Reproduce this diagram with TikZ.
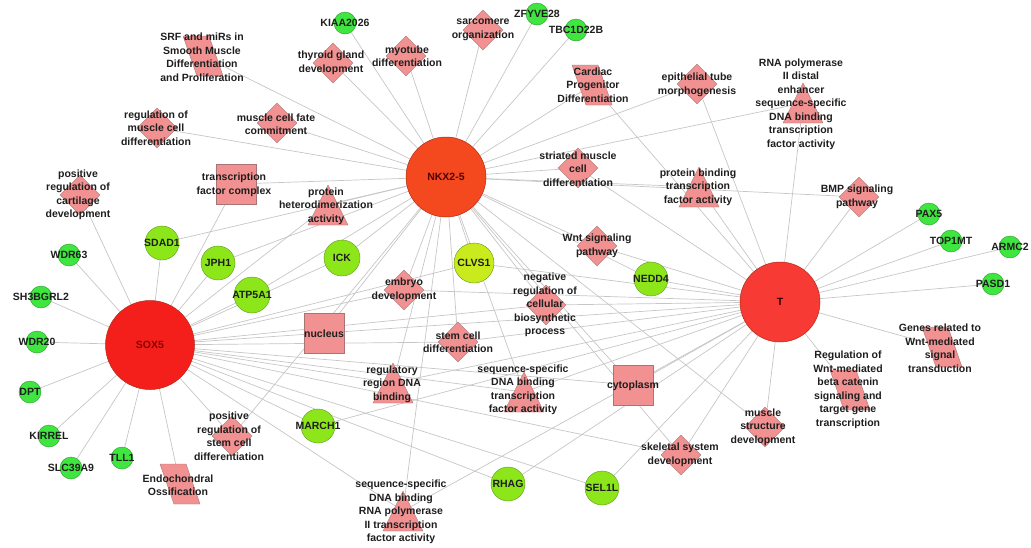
\documentclass[tikz,border=0pt]{standalone}
\usepackage{fontspec}
\setmainfont{Liberation Sans}
\usetikzlibrary{shapes.geometric}
\pgfdeclarelayer{bg}
\pgfdeclarelayer{fg}
\pgfsetlayers{bg,main,fg}
\definecolor{edgec}{HTML}{C6C6C6}
\definecolor{termf}{HTML}{F29191}
\definecolor{termd}{HTML}{A87474}
\definecolor{gbright}{HTML}{3FE63F}
\definecolor{gbrightd}{HTML}{2E9A2E}
\definecolor{limec}{HTML}{8CE61A}
\definecolor{limed}{HTML}{5E9A1A}
\definecolor{yelc}{HTML}{C9EA1C}
\definecolor{nkxc}{HTML}{F4491E}
\definecolor{soxc}{HTML}{F41F1A}
\definecolor{tcol}{HTML}{F83A34}
\definecolor{hubd}{HTML}{B02A1A}
\definecolor{txt}{HTML}{1E1E1E}
\newcommand\mkparal[1]{\draw[term] ([shift={(-20,-20)}]#1.center) -- ([shift={(6,-20)}]#1.center) -- ([shift={(20,20)}]#1.center) -- ([shift={(-6,20)}]#1.center) -- cycle;}
\newcommand\mktri[1]{\draw[term] ([shift={(0,-20)}]#1.center) -- ([shift={(20,20)}]#1.center) -- ([shift={(-20,20)}]#1.center) -- cycle;}
\tikzset{
  edge/.style={draw=edgec, line width=0.7pt},
  term/.style={fill=termf, draw=termd, line width=0.4pt},
  hub/.style={circle, inner sep=0pt, minimum size=80pt, draw=hubd, line width=0.5pt},
  gsmall/.style={circle, inner sep=0pt, minimum size=22pt, fill=gbright, draw=gbrightd, line width=0.4pt},
  gbig/.style={circle, inner sep=0pt, minimum size=34pt, fill=limec, draw=limed, line width=0.4pt},
  dia/.style={diamond, inner sep=0pt, minimum width=40pt, minimum height=40pt, term},
  sq/.style={rectangle, inner sep=0pt, minimum size=40pt, term},
  pt/.style={inner sep=0pt, minimum size=0pt},
  lbl/.style={align=center, text=txt, inner sep=0pt, font=\fontsize{10.5}{13.5}\selectfont\bfseries},
}
\begin{document}
\begin{tikzpicture}[x=1pt, y=-1pt]
\useasboundingbox (0,0) rectangle (1031,547);
% hubs
\node[hub, fill=nkxc, minimum size=80pt] (nkx) at (446,177) {};
\node[hub, fill=soxc, minimum size=89pt] (sox) at (150,345) {};
\node[hub, fill=tcol, minimum size=80pt] (t) at (780,302) {};
% small genes
\node[gsmall] (kiaa) at (345,23) {};
\node[gsmall] (zfyve) at (537,14) {};
\node[gsmall] (tbc) at (576,30) {};
\node[gsmall] (pax5) at (929,214) {};
\node[gsmall] (top1mt) at (951,241) {};
\node[gsmall] (armc2) at (1010,247) {};
\node[gsmall] (pasd1) at (993,284) {};
\node[gsmall] (wdr63) at (69,255) {};
\node[gsmall] (sh3) at (41,297) {};
\node[gsmall] (wdr20) at (37,342) {};
\node[gsmall] (dpt) at (30,392) {};
\node[gsmall] (kirrel) at (49,436) {};
\node[gsmall] (slc) at (71,468) {};
\node[gsmall] (tll1) at (122,458) {};
% big genes
\node[gbig] (sdad1) at (162,243) {};
\node[gbig] (jph1) at (218,263) {};
\node[gbig, minimum size=36pt] (ick) at (342,258) {};
\node[gbig, minimum size=36pt] (atp5a1) at (252,295) {};
\node[gbig, minimum size=40pt, fill=yelc] (clvs1) at (474,263) {};
\node[gbig] (nedd4) at (651,279) {};
\node[gbig] (march1) at (318,426) {};
\node[gbig] (rhag) at (508,484) {};
\node[gbig] (sel1l) at (602,488) {};
% diamonds
\node[dia] (thyroid) at (333,63) {};
\node[dia] (myotube) at (406,56) {};
\node[dia] (sarcomere) at (483,30) {};
\node[dia] (mcfate) at (277,123) {};
\node[dia] (regmcd) at (157,128) {};
\node[dia] (poscart) at (80,195) {};
\node[dia] (embryo) at (404,290) {};
\node[dia] (striated) at (578,168) {};
\node[dia] (wnt) at (597,246) {};
\node[dia] (negreg) at (546,305) {};
\node[dia] (stemcell) at (458,342) {};
\node[dia] (epith) at (697,84) {};
\node[dia] (bmp) at (859,197) {};
\node[dia] (skeletal) at (681,455) {};
\node[dia] (musclestr) at (765,427) {};
\node[dia] (posstem) at (232,436) {};
% squares
\node[sq] (tfc) at (236,184) {};
\node[sq] (nucleus) at (324,333) {};
\node[sq] (cyto) at (633,385) {};
% triangles
\node[pt] (prothet) at (328,205) {};
\node[pt] (probind) at (699,187) {};
\node[pt] (rnapol) at (803,103) {};
\node[pt] (regreg) at (393,383) {};
\node[pt] (seqtf) at (524,392) {};
\node[pt] (seqrna) at (403,511) {};
\mktri{prothet}\mktri{probind}\mktri{rnapol}\mktri{regreg}\mktri{seqtf}\mktri{seqrna}
% parallelograms
\node[pt] (srf) at (203,56) {};
\node[pt] (cardiac) at (592,85) {};
\node[pt] (endo) at (180,484) {};
\node[pt] (regwnt) at (850,390) {};
\node[pt] (genes) at (942,347) {};
\mkparal{srf}\mkparal{cardiac}\mkparal{endo}\mkparal{regwnt}\mkparal{genes}
% edges
\begin{pgfonlayer}{bg}
\foreach \n in {kiaa,zfyve,tbc,thyroid,myotube,sarcomere,srf,mcfate,regmcd,tfc,prothet,sdad1,jph1,ick,atp5a1,clvs1,embryo,nucleus,stemcell,regreg,seqtf,seqrna,posstem,negreg,striated,cardiac,epith,rnapol,probind,bmp,wnt,nedd4,musclestr,cyto,skeletal}
  \draw[edge] (nkx.center) -- (\n.center);
\foreach \n in {wdr63,sh3,wdr20,dpt,kirrel,slc,tll1,poscart,endo,posstem,sdad1,jph1,atp5a1,ick,tfc,prothet,embryo,clvs1,nucleus,stemcell,negreg,regreg,seqtf,seqrna,march1,rhag,sel1l,skeletal,cyto}
  \draw[edge] (sox.center) -- (\n.center);
\foreach \n in {pax5,top1mt,armc2,pasd1,bmp,rnapol,epith,probind,cardiac,striated,wnt,nedd4,clvs1,negreg,stemcell,embryo,nucleus,seqtf,regreg,cyto,march1,rhag,sel1l,skeletal,musclestr,regwnt,genes,seqrna}
  \draw[edge] (t.center) -- (\n.center);
\end{pgfonlayer}
% labels
\begin{pgfonlayer}{fg}
\node[lbl, text=black!60!red!80!black] (nkx-l) at (nkx) {NKX2-5};
\node[lbl, text=red!55!black] (sox-l) at (sox) {SOX5};
\node[lbl, text=black!80!red] (t-l) at (t) {T};
\node[lbl] (kiaa-l) at (kiaa) {KIAA2026};
\node[lbl] (zfyve-l) at (zfyve) {ZFYVE28};
\node[lbl] (tbc-l) at (tbc) {TBC1D22B};
\node[lbl] (pax5-l) at (pax5) {PAX5};
\node[lbl] (top1mt-l) at (top1mt) {TOP1MT};
\node[lbl] (armc2-l) at (armc2) {ARMC2};
\node[lbl] (pasd1-l) at (pasd1) {PASD1};
\node[lbl] (wdr63-l) at (wdr63) {WDR63};
\node[lbl] (sh3-l) at (sh3) {SH3BGRL2};
\node[lbl] (wdr20-l) at (wdr20) {WDR20};
\node[lbl] (dpt-l) at (dpt) {DPT};
\node[lbl] (kirrel-l) at (kirrel) {KIRREL};
\node[lbl] (slc-l) at (slc) {SLC39A9};
\node[lbl] (tll1-l) at (tll1) {TLL1};
\node[lbl] (sdad1-l) at (sdad1) {SDAD1};
\node[lbl] (jph1-l) at (jph1) {JPH1};
\node[lbl] (ick-l) at (ick) {ICK};
\node[lbl] (atp5a1-l) at (atp5a1) {ATP5A1};
\node[lbl] (clvs1-l) at (clvs1) {CLVS1};
\node[lbl] (nedd4-l) at (nedd4) {NEDD4};
\node[lbl] (march1-l) at (march1) {MARCH1};
\node[lbl] (rhag-l) at (rhag) {RHAG};
\node[lbl] (sel1l-l) at (sel1l) {SEL1L};
\node[lbl] (thyroid-l) at (331,63) {thyroid gland\\development};
\node[lbl] (myotube-l) at (407,56) {myotube\\differentiation};
\node[lbl] (sarcomere-l) at (483,30) {sarcomere\\organization};
\node[lbl] (mcfate-l) at (276,124) {muscle cell fate\\commitment};
\node[lbl] (regmcd-l) at (156,128) {regulation of\\muscle cell\\differentiation};
\node[lbl] (poscart-l) at (78,195) {positive\\regulation of\\cartilage\\development};
\node[lbl] (embryo-l) at (404,290) {embryo\\development};
\node[lbl] (striated-l) at (578,169) {striated muscle\\cell\\differentiation};
\node[lbl] (wnt-l) at (597,246) {Wnt signaling\\pathway};
\node[lbl] (negreg-l) at (545,305) {negative\\regulation of\\cellular\\biosynthetic\\process};
\node[lbl] (stemcell-l) at (458,342) {stem cell\\differentiation};
\node[lbl] (epith-l) at (697,85) {epithelial tube\\morphogenesis};
\node[lbl] (bmp-l) at (857,197) {BMP signaling\\pathway};
\node[lbl] (skeletal-l) at (680,455) {skeletal system\\development};
\node[lbl] (musclestr-l) at (763,427) {muscle\\structure\\development};
\node[lbl] (posstem-l) at (229,436) {positive\\regulation of\\stem cell\\differentiation};
\node[lbl] (tfc-l) at (234,185) {transcription\\factor complex};
\node[lbl] (nucleus-l) at (324,334) {nucleus};
\node[lbl] (cyto-l) at (633,386) {cytoplasm};
\node[lbl] (prothet-l) at (326,206) {protein\\heterodimerization\\activity};
\node[lbl] (probind-l) at (698,187) {protein binding\\transcription\\factor activity};
\node[lbl] (rnapol-l) at (801,104) {RNA polymerase\\II distal\\enhancer\\sequence-specific\\DNA binding\\transcription\\factor activity};
\node[lbl] (regreg-l) at (392,384) {regulatory\\region DNA\\binding};
\node[lbl] (seqtf-l) at (523,390) {sequence-specific\\DNA binding\\transcription\\factor activity};
\node[lbl] (seqrna-l) at (401,512) {sequence-specific\\DNA binding\\RNA polymerase\\II transcription\\factor activity};
\node[lbl] (srf-l) at (202,57) {SRF and miRs in\\Smooth Muscle\\Differentiation\\and Proliferation};
\node[lbl] (cardiac-l) at (593,85) {Cardiac\\Progenitor\\Differentiation};
\node[lbl] (endo-l) at (178,485) {Endochondral\\Ossification};
\node[lbl] (regwnt-l) at (848,390) {Regulation of\\Wnt-mediated\\beta catenin\\signaling and\\target gene\\transcription};
\node[lbl] (genes-l) at (940,348) {Genes related to\\Wnt-mediated\\signal\\transduction};
\end{pgfonlayer}
\end{tikzpicture}
\end{document}
